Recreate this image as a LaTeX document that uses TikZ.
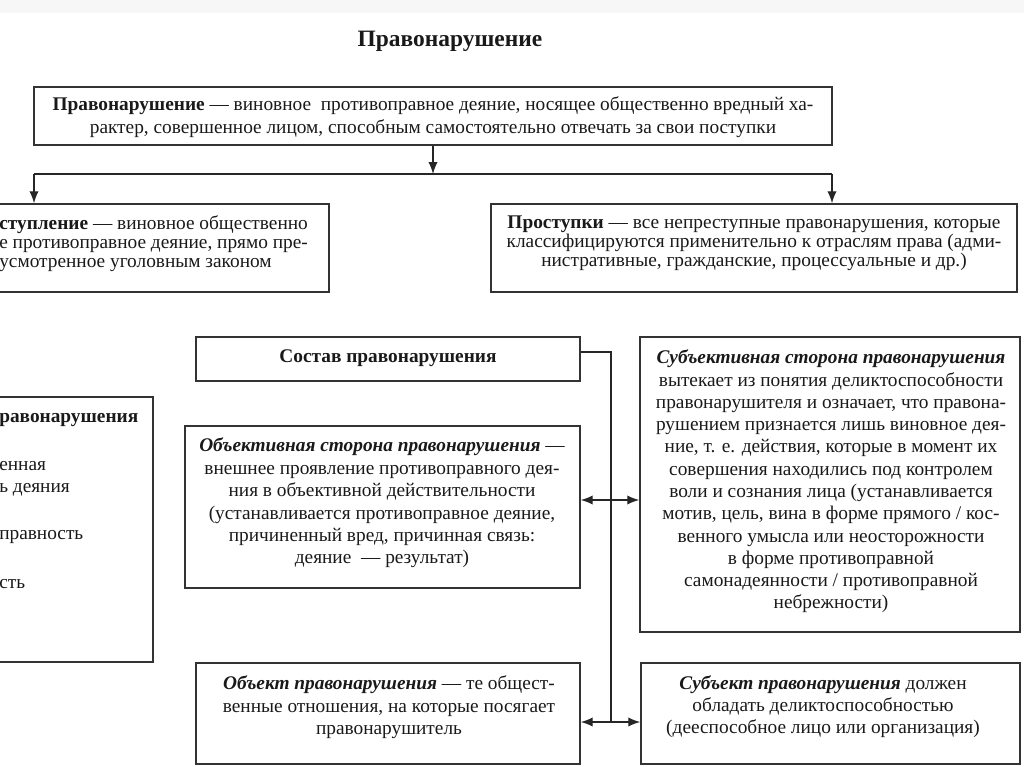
\documentclass[tikz,border=0pt]{standalone}
\usepackage{fontspec}
\setmainfont{Liberation Serif}
\usetikzlibrary{arrows.meta,fit}
\newcommand\fsz[1]{\fontsize{14.5pt}{#1}\selectfont}
\tikzset{
  box/.style={draw=black!80, line width=1.1pt, inner sep=0pt, rectangle},
  txt/.style={inner sep=0pt, align=center, text=black!90},
  frag/.style={inner sep=0pt, anchor=west, text=black!90, font=\fsz{15pt}},
  conn/.style={draw=black!85, line width=1pt},
  tip/.style={-{Latex[length=9pt,width=7pt]}},
  dtip/.style={{Latex[length=9pt,width=7pt]}-{Latex[length=9pt,width=7pt]}},
}
\begin{document}
\begin{tikzpicture}[x=0.75pt,y=-0.75pt]
\useasboundingbox (0,0) rectangle (1024,767);
\fill[black!3] (0,0) rectangle (1024,13);

% title
\node[txt, font=\fontsize{17.6pt}{20pt}\selectfont\bfseries] (title) at (450,41) {Правонарушение};

% top definition
\node[box, fit={(34,87)(832,145)}] (def) {};
\node[txt, font=\fsz{17.25pt}] (defT) at (433,117.5) {\textbf{Правонарушение} — виновное\ \ противоправное деяние, носящее общественно вредный ха-\\рактер, совершенное лицом, способным самостоятельно отвечать за свои поступки};

% split
\coordinate (bar) at (433,174);
\coordinate (barL) at (34,174);
\coordinate (barR) at (832,174);
\draw[conn, tip] (def.south -| bar) -- (bar);
\draw[conn, line width=1.6pt] (barL) -- (barR);

% crime (cut off at left)
\node[box, fit={(-60,204)(329,292)}] (crime) {};
\node[txt, anchor=west, align=left, font=\fsz{14.25pt}] (crimeT) at (-1,244) {\textbf{ступление} — виновное общественно\\е противоправное деяние, прямо пре-\\усмотренное уголовным законом};

% misdemeanour
\node[box, fit={(491,204)(1017,292)}] (misd) {};
\node[txt, font=\fsz{14.25pt}] (misdT) at (754,243) {\textbf{Проступки} — все непреступные правонарушения, которые\\классифицируются применительно к отраслям права (адми-\\нистративные, гражданские, процессуальные и др.)};

\draw[conn, tip] (barL) -- (barL |- crime.north);
\draw[conn, tip] (barR) -- (barR |- misd.north);

% left partial box
\node[box, fit={(-60,397)(153,662)}] (elem) {};
\node[frag, font=\fsz{15pt}\bfseries] (e1) at (-1,420) {равонарушения};
\node[frag] (e2) at (-1,466) {енная};
\node[frag] (e3) at (-1,490) {ь деяния};
\node[frag] (e4) at (-1,537) {правность};
\node[frag] (e5) at (-1,584) {сть};

% composition
\node[box, fit={(196,337)(580,381)}] (sostav) {};
\node[txt, font=\fsz{15pt}\bfseries] (sostavT) at (388,358) {Состав правонарушения};

\node[box, fit={(185,426)(580,588)}] (obj) {};
\node[txt, font=\fsz{16.8pt}] (objT) at (382,503) {\textbf{\textit{Объективная сторона правонарушения}} —\\внешнее проявление противоправного дея-\\ния в объективной действительности\\(устанавливается противоправное деяние,\\причиненный вред, причинная связь:\\деяние\ \ — результат)};

\node[box, fit={(640,337)(1020,632)}] (subj) {};
\node[txt, font=\fsz{16.7pt}] (subjT) at (831,481.5) {\textbf{\textit{Субъективная сторона правонарушения}}\\вытекает из понятия деликтоспособности\\правонарушителя и означает, что правона-\\рушением признается лишь виновное дея-\\ние, т. е. действия, которые в момент их\\совершения находились под контролем\\воли и сознания лица (устанавливается\\мотив, цель, вина в форме прямого / кос-\\венного умысла или неосторожности\\в форме противоправной\\самонадеянности / противоправной\\небрежности)};

\node[box, fit={(196,663)(580,764)}] (objct) {};
\node[txt, font=\fsz{16.9pt}] (objctT) at (389,707.5) {\textbf{\textit{Объект правонарушения}} — те общест-\\венные отношения, на которые посягает\\правонарушитель};

\node[box, fit={(641,663)(1020,764)}] (subjct) {};
\node[txt, font=\fsz{16.5pt}] (subjctT) at (823,707) {\textbf{\textit{Субъект правонарушения}} должен\\обладать деликтоспособностью\\(дееспособное лицо или организация)};

% trunk
\coordinate (m1) at (611,500);
\coordinate (m2) at (611,722);
\draw[conn] (sostav.east |- 0,352) -| (m2);
\draw[conn, dtip] (obj.east |- m1) -- (subj.west |- m1);
\draw[conn, dtip] (objct.east |- m2) -- (subjct.west |- m2);
\end{tikzpicture}
\end{document}
